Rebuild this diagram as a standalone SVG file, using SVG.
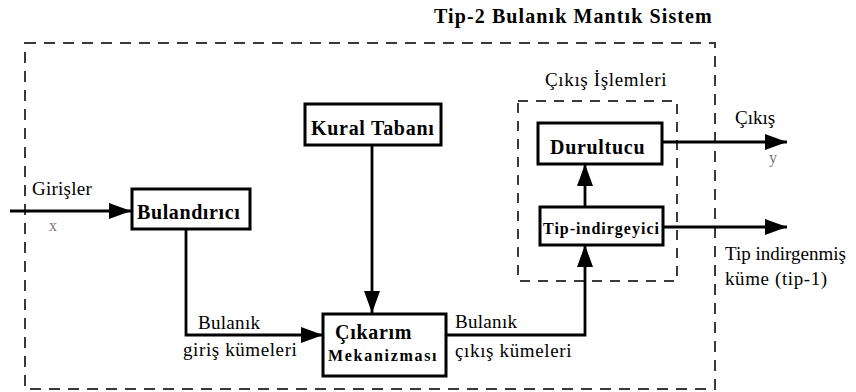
<svg xmlns="http://www.w3.org/2000/svg" width="856" height="392" viewBox="0 0 856 392">
  <style>
    .frame { fill: none; stroke: #3a3a3a; stroke-width: 2; }
    .box { fill: #fff; stroke: #000; stroke-width: 3; }
    .wire { fill: none; stroke: #000; stroke-width: 2.8; }
    .lbl { font-family: "Liberation Serif", "Times New Roman", serif; font-size: 19px; letter-spacing: 0.5px; fill: #000; }
    .bold { font-family: "Liberation Serif", "Times New Roman", serif; font-weight: bold; font-size: 20px; letter-spacing: 0.7px; fill: #000; }
    .var { font-family: "Liberation Serif", "Times New Roman", serif; font-size: 16px; fill: #777; }
  </style>
  <defs>
    <marker id="head" markerUnits="userSpaceOnUse" markerWidth="22" markerHeight="16" refX="22" refY="8" orient="auto">
      <path d="M0,0 L22,8 L0,16 z" fill="#000"/>
    </marker>
  </defs>

  <rect width="856" height="392" fill="#fff"/>

  <!-- system title and outer frame -->
  <text class="bold" x="434" y="23" style="letter-spacing:1.1px">Tip-2 Bulanık Mantık Sistem</text>
  <rect class="frame" x="25" y="43" width="690" height="346" stroke-dasharray="11 8"/>

  <!-- output processing frame -->
  <g id="cikis-islemleri">
    <rect class="frame" x="518" y="101" width="159" height="180" stroke-dasharray="10 8"/>
    <text class="lbl" x="545" y="86" style="letter-spacing:0.65px">Çıkış İşlemleri</text>
  </g>

  <!-- connectors -->
  <g id="connectors">
    <path class="wire" d="M10,211 H131" marker-end="url(#head)"/>
    <path class="wire" d="M186,229 V335 H323" marker-end="url(#head)"/>
    <path class="wire" d="M372,145 V313" marker-end="url(#head)"/>
    <path class="wire" d="M446,335 H585 V245" marker-end="url(#head)"/>
    <path class="wire" d="M585,207 V164" marker-end="url(#head)"/>
    <path class="wire" d="M662,142 H787" marker-end="url(#head)"/>
    <path class="wire" d="M663,227 H787" marker-end="url(#head)"/>

    <text class="lbl" x="32" y="195" style="letter-spacing:0.25px">Girişler</text>
    <text class="var" x="49" y="231">x</text>
    <text class="lbl" x="198" y="329" style="letter-spacing:0.3px">Bulanık</text>
    <text class="lbl" x="183" y="356" style="letter-spacing:0.6px">giriş kümeleri</text>
    <text class="lbl" x="455" y="328" style="letter-spacing:0.3px">Bulanık</text>
    <text class="lbl" x="455" y="357" style="letter-spacing:0.65px">çıkış kümeleri</text>
    <text class="lbl" x="735" y="124" style="letter-spacing:0">Çıkış</text>
    <text class="var" x="769" y="163">y</text>
    <text class="lbl" x="725" y="260" style="letter-spacing:0">Tip indirgenmiş</text>
    <text class="lbl" x="725" y="285" style="letter-spacing:0.6px">küme (tip-1)</text>
  </g>

  <g id="kural-tabani">
    <rect class="box" x="305" y="104" width="136" height="41"/>
    <text class="bold" x="311" y="135">Kural Tabanı</text>
  </g>

  <g id="bulandirici">
    <rect class="box" x="132" y="189" width="118" height="40"/>
    <text class="bold" x="137" y="219" style="letter-spacing:0.6px">Bulandırıcı</text>
  </g>

  <g id="cikarim-mekanizmasi">
    <rect class="box" x="323" y="314" width="123" height="62" stroke-width="4.5"/>
    <text class="bold" x="335" y="339">Çıkarım</text>
    <text class="bold" x="328" y="361" style="font-size:16px;letter-spacing:1.7px">Mekanizması</text>
  </g>

  <g id="durultucu">
    <rect class="box" x="538" y="123" width="124" height="41"/>
    <text class="bold" x="550" y="154">Durultucu</text>
  </g>

  <g id="tip-indirgeyici">
    <rect class="box" x="540" y="207" width="123" height="38"/>
    <text class="bold" x="543" y="234" style="font-size:16px;letter-spacing:1px">Tip-indirgeyici</text>
  </g>
</svg>
